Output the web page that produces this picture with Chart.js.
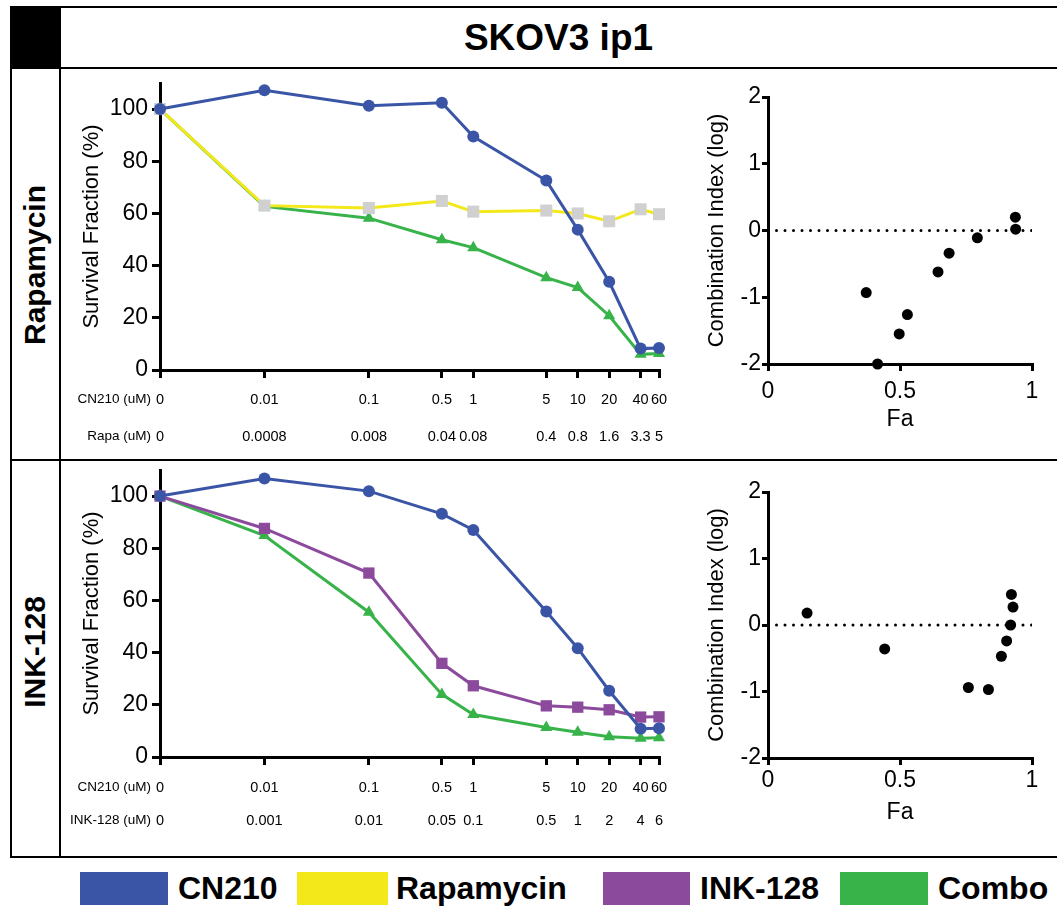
<!DOCTYPE html>
<html>
<head>
<meta charset="utf-8">
<script src="https://cdn.jsdelivr.net/npm/chart.js@4.4.1/dist/chart.umd.min.js"></script>
<style>
  body { margin: 0; width: 1057px; height: 910px; background: #fff; position: relative; overflow: hidden;
         font-family: 'Liberation Sans', Arial, sans-serif; }
  .hl { position: absolute; height: 2px; background: #000; }
  .vl { position: absolute; width: 2px; background: #000; }
  canvas { position: absolute; }
  .rowlab { position: absolute; font-weight: bold; font-size: 30px; white-space: nowrap;
            transform: translate(-50%, -50%) rotate(-90deg); }
  .key { position: absolute; top: 872px; height: 33px; }
  .keytxt { position: absolute; top: 872px; height: 33px; line-height: 33px; font-weight: bold; font-size: 32px; }
</style>
</head>
<body>
<!-- frame -->
<div style="position:absolute;left:10px;top:7px;width:51px;height:62px;background:#000"></div>
<div class="hl" style="left:10px;top:6px;width:1047px"></div>
<div class="hl" style="left:60px;top:67px;width:997px"></div>
<div class="hl" style="left:10px;top:459px;width:1047px"></div>
<div class="hl" style="left:10px;top:856px;width:1047px"></div>
<div class="vl" style="left:10px;top:6px;height:852px"></div>
<div class="vl" style="left:59px;top:6px;height:852px"></div>
<div style="position:absolute;left:60px;width:997px;top:8px;height:59px;line-height:59px;text-align:center;font-weight:bold;font-size:37px">SKOV3 ip1</div>
<div class="rowlab" style="left:35px;top:265px">Rapamycin</div>
<div class="rowlab" style="left:35px;top:652px">INK-128</div>

<canvas id="rapaDose" width="612" height="386" style="left:62px;top:72px"></canvas>
<canvas id="rapaCI" width="365" height="386" style="left:692px;top:72px"></canvas>
<canvas id="inkDose" width="612" height="395" style="left:62px;top:462px"></canvas>
<canvas id="inkCI" width="365" height="395" style="left:692px;top:462px"></canvas>

<!-- legend -->
<div class="key" style="left:80px;width:88px;background:#3a55a5"></div>
<div class="keytxt" style="left:178px">CN210</div>
<div class="key" style="left:297px;width:91px;background:#f3e81a"></div>
<div class="keytxt" style="left:396px">Rapamycin</div>
<div class="key" style="left:603px;width:87px;background:#8c4a9c"></div>
<div class="keytxt" style="left:700px">INK-128</div>
<div class="key" style="left:840px;width:88px;background:#37b34a"></div>
<div class="keytxt" style="left:938px">Combo</div>

<script>
// dose tick labels
const cn210Conc = ["0", "0.01", "0.1", "0.5", "1", "5", "10", "20", "40", "60"];
const rapaConc = ["0", "0.0008", "0.008", "0.04", "0.08", "0.4", "0.8", "1.6", "3.3", "5"];
const ink128Conc = ["0", "0.001", "0.01", "0.05", "0.1", "0.5", "1", "2", "4", "6"];
// where each dose sits on the log axis (the 0 dose is drawn one decade left of 0.01)
const doseX = [0.001, 0.01, 0.1, 0.5, 1, 5, 10, 20, 40, 60];

// survival fraction (%)
const rapaCN210 = [100, 107.2, 101.3, 102.4, 89.5, 72.6, 53.8, 33.8, 8.2, 8.4];
const rapaAlone = [100, 63.0, 62.1, 64.8, 60.7, 61.1, 60.0, 57.0, 61.6, 59.7];
const rapaCombo = [100, 62.7, 58.2, 49.9, 46.9, 35.4, 31.6, 20.8, 6.0, 6.3];
const inkCN210 = [100, 106.7, 101.9, 93.2, 87.0, 55.8, 41.7, 25.4, 10.8, 11.0];
const inkAlone = [100, 87.6, 70.5, 35.9, 27.3, 19.6, 19.1, 18.1, 15.3, 15.4];
const inkCombo = [100, 84.9, 55.5, 24.0, 16.3, 11.3, 9.5, 7.8, 7.2, 7.4];

// combination index (log) vs fraction affected
const rapaFa = [0.372, 0.415, 0.497, 0.528, 0.644, 0.686, 0.793, 0.937, 0.938];
const rapaCI = [-0.93, -2.0, -1.55, -1.26, -0.62, -0.34, -0.11, 0.20, 0.02];
const inkFa = [0.148, 0.442, 0.759, 0.835, 0.884, 0.904, 0.919, 0.922, 0.928];
const inkCI = [0.18, -0.36, -0.94, -0.97, -0.47, -0.24, 0.0, 0.46, 0.27];

const BLUE = "#3a55a5", YELLOW = "#f3e81a", GREY = "#d0d0d0", PURPLE = "#8c4a9c", GREEN = "#37b34a";
const SANS = "'Liberation Sans', Arial, sans-serif";

Chart.defaults.font.family = SANS;
Chart.defaults.color = "#000";
Chart.defaults.animation = false;
Chart.defaults.plugins.legend.display = false;
Chart.defaults.plugins.tooltip.enabled = false;

const axisGrid = { drawOnChartArea: false, color: "#000", lineWidth: 3, tickLength: 8 };
const axisBorder = { color: "#000", width: 3 };

// draws "CN210 (uM)" / "Rapa (uM)" left of the first dose label
const rowNames = {
  id: "rowNames",
  afterDraw(chart, args, opts) {
    const x = chart.scales.x;
    const ctx = chart.ctx;
    const px = x.getPixelForValue(doseX[0]) - 9;
    let y = x.top + 8 + opts.pad + opts.lineH / 2;
    ctx.save();
    ctx.font = "13.5px " + SANS;
    ctx.fillStyle = "#000";
    ctx.textAlign = "right";
    ctx.textBaseline = "middle";
    opts.names.forEach(n => { ctx.fillText(n, px, y); y += opts.lineH; });
    ctx.restore();
  }
};

function line(label, vals, color, style, fill, r) {
  return {
    label: label,
    data: doseX.map((x, i) => ({ x: x, y: vals[i] })),
    borderColor: color, borderWidth: 3, tension: 0,
    pointStyle: style, pointRadius: r, pointBackgroundColor: fill, pointBorderWidth: 0,
    clip: false
  };
}

function doseChart(id, datasets, row2, names, g) {
  return new Chart(document.getElementById(id), {
    type: "line",
    data: { datasets: datasets },
    plugins: [rowNames],
    options: {
      responsive: false,
      layout: { padding: { left: 0, right: 15, top: g.top, bottom: 0 } },
      plugins: { rowNames: { names: names, pad: g.pad, lineH: g.lineH } },
      scales: {
        x: {
          type: "logarithmic", min: 0.001, max: 60,
          afterBuildTicks: s => { s.ticks = doseX.map(v => ({ value: v })); },
          afterFit: s => { s.height = g.xh; s.paddingLeft = 0; s.paddingRight = 0; },
          border: axisBorder, grid: axisGrid,
          ticks: {
            autoSkip: false, maxRotation: 0, padding: g.pad,
            font: { size: 14.5, lineHeight: g.lineH / 14.5 },
            callback: (v, i) => [cn210Conc[i], row2[i]]
          }
        },
        y: {
          min: 0, max: 110,
          afterFit: s => { s.width = 98; s.paddingTop = 0; s.paddingBottom = 0; },
          border: axisBorder, grid: axisGrid,
          ticks: { stepSize: 20, includeBounds: false, padding: 4, font: { size: 23 } },
          title: { display: true, text: "Survival Fraction (%)", font: { size: 22 }, padding: { top: 17, bottom: 0 } }
        }
      }
    }
  });
}

function ciChart(id, fa, ci, g) {
  return new Chart(document.getElementById(id), {
    type: "scatter",
    data: {
      datasets: [
        { data: fa.map((x, i) => ({ x: x, y: ci[i] })), pointRadius: 5.5, pointBackgroundColor: "#000",
          pointBorderWidth: 0, clip: false },
        { data: [{ x: 0, y: 0 }, { x: 1, y: 0 }], showLine: true, pointRadius: 0, borderColor: "#000",
          borderWidth: 3, borderDash: [0, 8.5], borderCapStyle: "round" }
      ]
    },
    options: {
      responsive: false,
      layout: { padding: { left: 0, right: 25, top: g.top, bottom: 0 } },
      scales: {
        x: {
          type: "linear", min: 0, max: 1,
          afterFit: s => { s.height = g.xh; s.paddingLeft = 0; s.paddingRight = 0; },
          border: axisBorder, grid: Object.assign({}, axisGrid, { tickLength: 7 }),
          ticks: { stepSize: 0.5, padding: g.pad, font: { size: 23 }, callback: v => String(v) },
          title: { display: true, text: "Fa", font: { size: 23 }, padding: { top: 0, bottom: g.faPad } }
        },
        y: {
          min: -2, max: 2,
          afterFit: s => { s.width = 76; s.paddingTop = 0; s.paddingBottom = 0; },
          border: axisBorder, grid: Object.assign({}, axisGrid, { tickLength: 6 }),
          ticks: { stepSize: 1, padding: 1, font: { size: 23 } },
          title: { display: true, text: "Combination Index (log)", font: { size: 22 }, padding: { top: 12, bottom: 0 } }
        }
      }
    }
  });
}

doseChart("rapaDose", [
  line("CN210", rapaCN210, BLUE, "circle", BLUE, 6),
  line("Rapamycin", rapaAlone, YELLOW, "rect", GREY, 8.5),
  line("Combo", rapaCombo, GREEN, "triangle", GREEN, 7)
], rapaConc, ["CN210 (uM)", "Rapa (uM)"], { top: 11, xh: 88, pad: 3, lineH: 37 });

doseChart("inkDose", [
  line("CN210", inkCN210, BLUE, "circle", BLUE, 6),
  line("INK-128", inkAlone, PURPLE, "rect", PURPLE, 8),
  line("Combo", inkCombo, GREEN, "triangle", GREEN, 7)
], ink128Conc, ["CN210 (uM)", "INK-128 (uM)"], { top: 8, xh: 100, pad: 6, lineH: 33 });

ciChart("rapaCI", rapaFa, rapaCI, { top: 25, xh: 94, pad: 7, faPad: 25 });
ciChart("inkCI", inkFa, inkCI, { top: 30, xh: 99, pad: 2, faPad: 31 });
</script>
</body>
</html>
